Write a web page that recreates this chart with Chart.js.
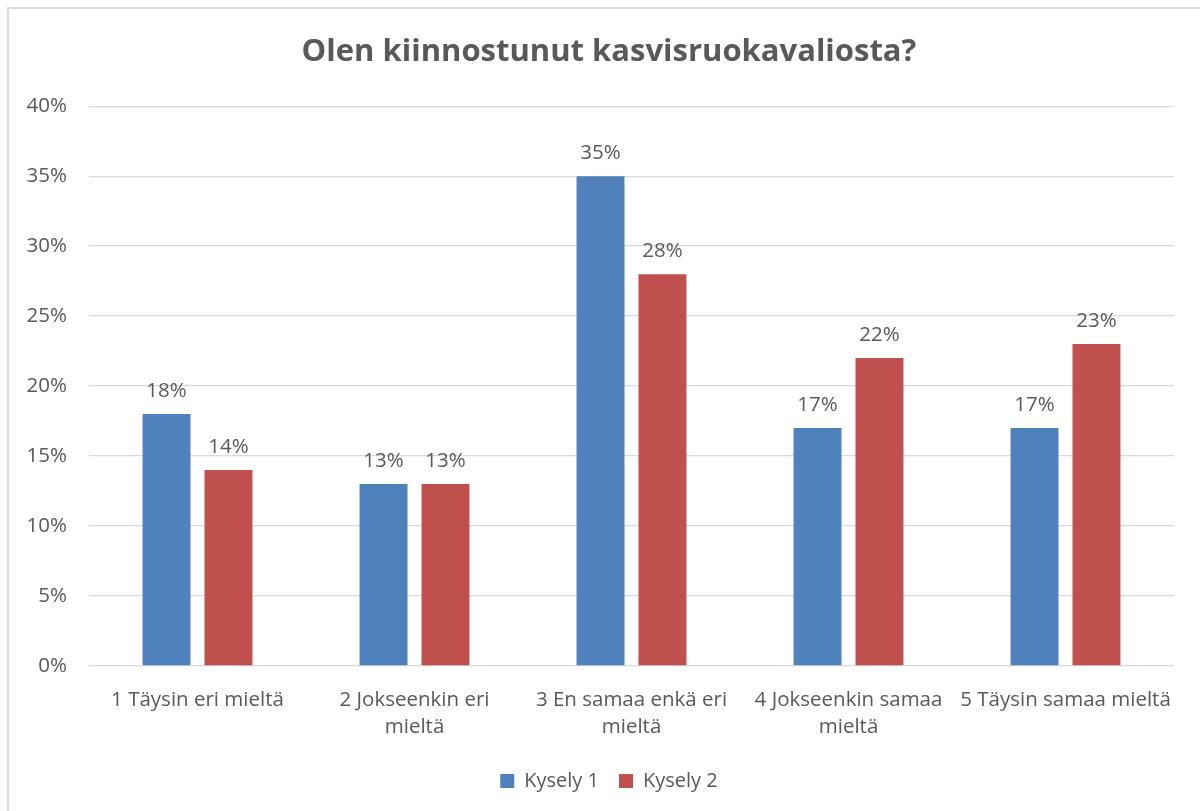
<!DOCTYPE html>
<html>
<head>
<meta charset="utf-8">
<script src="https://cdn.jsdelivr.net/npm/chart.js@4/dist/chart.umd.min.js"></script>
<style>
  html, body { margin: 0; padding: 0; background: #fff; }
  #wrap { position: absolute; left: 0; top: 0; width: 1200px; height: 811px; overflow: hidden; }
  #frame { position: absolute; left: 7px; top: 7px; width: 1300px; height: 900px; border: 2px solid #d9d9d9; box-sizing: border-box; }
  canvas { position: absolute; left: 0; top: 0; }
</style>
</head>
<body>
<div id="wrap">
  <div id="frame"></div>
  <canvas id="c" width="1200" height="811"></canvas>
</div>
<script>
const title = "Olen kiinnostunut kasvisruokavaliosta?";
const categories = [
  "1 Täysin eri mieltä",
  ["2 Jokseenkin eri", "mieltä"],
  ["3 En samaa enkä eri", "mieltä"],
  ["4 Jokseenkin samaa", "mieltä"],
  "5 Täysin samaa mieltä"
];
const seriesNames = ["Kysely 1", "Kysely 2"];
const kysely1 = [18, 13, 35, 17, 17];
const kysely2 = [14, 13, 28, 22, 23];
const yTicks = { min: 0, max: 40, step: 5 };

const FONT = "'Open Sans', 'Liberation Sans', sans-serif";
const TXT = "#595959";
const FS = 20.5;

const dataLabels = {
  id: 'dataLabels',
  afterDatasetsDraw(chart) {
    const ctx = chart.ctx;
    ctx.save();
    ctx.font = FS + "px " + FONT;
    ctx.fillStyle = TXT;
    ctx.textAlign = 'center';
    ctx.textBaseline = 'middle';
    chart.data.datasets.forEach((ds, i) => {
      const meta = chart.getDatasetMeta(i);
      meta.data.forEach((el, j) => {
        ctx.fillText(ds.data[j] + '%', el.x, el.y - 23);
      });
    });
    ctx.restore();
  }
};

// Center title and legend on the frame (like the original), not on the whole canvas
const frameCenter = {
  id: 'frameCenter',
  afterLayout(chart) {
    const inset = 44;
    if (chart.titleBlock) chart.titleBlock.left = inset;
    if (chart.legend) chart.legend.left = inset;
  }
};

new Chart(document.getElementById('c'), {
  type: 'bar',
  data: {
    labels: categories,
    datasets: [
      { label: seriesNames[0], data: kysely1, backgroundColor: '#4F81BD', categoryPercentage: 0.571, barPercentage: 0.774 },
      { label: seriesNames[1], data: kysely2, backgroundColor: '#C0504D', categoryPercentage: 0.571, barPercentage: 0.774 }
    ]
  },
  options: {
    responsive: false,
    animation: false,
    devicePixelRatio: 1,
    layout: { padding: { left: 0, right: 26, top: 0, bottom: 10 } },
    plugins: {
      title: {
        display: true,
        text: title,
        color: TXT,
        font: { family: FONT, size: 31, weight: 'bold' },
        padding: { top: 34, bottom: 35 }
      },
      legend: {
        position: 'bottom',
        labels: {
          color: TXT,
          font: { family: FONT, size: 20 },
          boxWidth: 14,
          boxHeight: 14,
          padding: 20
        }
      },
      tooltip: { enabled: false }
    },
    scales: {
      x: {
        grid: { display: false },
        border: { display: false },
        ticks: { color: TXT, font: { family: FONT, size: FS, lineHeight: 1.32 }, padding: 13, maxRotation: 0, autoSkip: false },
        afterFit(s) { s.height = 85; }
      },
      y: {
        min: yTicks.min, max: yTicks.max,
        grid: { color: '#d9d9d9', lineWidth: 1.3, drawTicks: false },
        border: { display: false },
        ticks: { stepSize: yTicks.step, color: TXT, font: { family: FONT, size: FS }, padding: 22, callback: v => v + '%' },
        afterFit(s) { s.width = 89; }
      }
    }
  },
  plugins: [dataLabels, frameCenter]
});
</script>
</body>
</html>
